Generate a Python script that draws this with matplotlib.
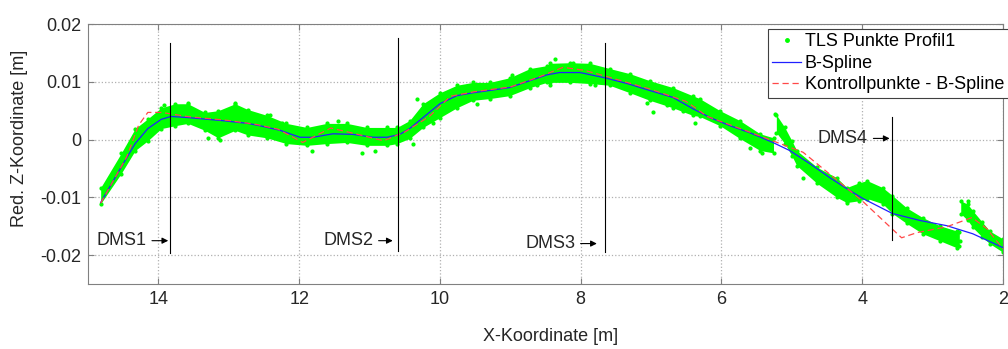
import numpy as np
import matplotlib.pyplot as plt

plt.rcParams['font.family'] = ['Liberation Sans', 'DejaVu Sans']

# B-spline curve
spline_x = [14.82, 14.53, 14.33, 14.15, 13.96, 13.82, 13.58, 13.11, 12.73, 12.56, 12.27,
            11.99, 11.80, 11.52, 11.24, 10.95, 10.75, 10.57, 10.43, 10.24, 10.00, 9.76,
            9.53, 9.29, 9.01, 8.72, 8.48, 8.30, 8.01, 7.66, 7.34, 7.02, 6.69, 6.40,
            6.16, 5.88, 5.60, 5.27, 5.03, 4.74, 4.46, 4.18, 3.99, 3.57, 3.18, 2.80,
            2.43, 2.00]
spline_z = [-0.0109, -0.0048, -0.0007, 0.0019, 0.0035, 0.0040, 0.0038, 0.0033, 0.0028,
            0.0024, 0.0016, 0.0004, 0.0004, 0.0010, 0.0009, 0.0004, 0.0004, 0.0009,
            0.0019, 0.0038, 0.0062, 0.0076, 0.0081, 0.0085, 0.0090, 0.0102, 0.0112,
            0.0116, 0.0116, 0.0107, 0.0097, 0.0085, 0.0073, 0.0053, 0.0038, 0.0024,
            0.0012, -0.0005, -0.0019, -0.0042, -0.0066, -0.0088, -0.0102, -0.0128,
            -0.0140, -0.0149, -0.0163, -0.0187]

# control polygon
ctrl_x = [14.82, 14.45, 14.28, 14.15, 13.95, 13.60, 13.00, 12.60, 12.30, 11.95, 11.55,
          11.20, 10.80, 10.50, 10.15, 9.85, 9.50, 9.00, 8.60, 8.25, 7.95, 7.60, 7.00,
          6.50, 6.20, 5.60, 5.21, 4.84, 4.00, 3.44, 3.22, 2.80, 2.44, 2.23, 2.00]
ctrl_z = [-0.0110, -0.0030, 0.0025, 0.0047, 0.0047, 0.0040, 0.0033, 0.0026, 0.0018,
          -0.0005, 0.0020, 0.0010, -0.0002, 0.0013, 0.0040, 0.0075, 0.0083, 0.0091,
          0.0108, 0.0125, 0.0120, 0.0108, 0.0087, 0.0066, 0.0040, 0.0013, -0.0005,
          -0.0022, -0.0106, -0.0170, -0.0161, -0.0151, -0.0135, -0.0154, -0.0189]

# TLS point cloud: upper / lower envelope, in three pieces
cloud_a_x = [14.82, 14.53, 14.33, 14.15, 13.96, 13.76, 13.58, 13.34, 13.15, 12.91, 12.73,
             12.46, 12.18, 11.89, 11.61, 11.32, 11.04, 10.75, 10.61, 10.43, 10.24, 10.00,
             9.76, 9.53, 9.29, 9.01, 8.72, 8.48, 8.44, 8.15, 7.87, 7.59, 7.30, 7.02,
             6.69, 6.41, 6.31, 6.02, 5.74, 5.45, 5.26]
cloud_a_top = [-0.0083, -0.0024, 0.0019, 0.0036, 0.0055, 0.0062, 0.0062, 0.0047, 0.0050,
               0.0062, 0.0052, 0.0042, 0.0028, 0.0021, 0.0028, 0.0028, 0.0021, 0.0021,
               0.0021, 0.0033, 0.0062, 0.0081, 0.0094, 0.0099, 0.0099, 0.0107, 0.0123,
               0.0128, 0.0132, 0.0133, 0.0132, 0.0123, 0.0114, 0.0102, 0.0090, 0.0076,
               0.0071, 0.0050, 0.0033, 0.0010, 0.0003]
cloud_a_bot = [-0.0111, -0.0059, -0.0019, -0.0002, 0.0019, 0.0024, 0.0028, 0.0016, 0.0003,
               0.0016, 0.0008, 0.0003, -0.0007, -0.0010, -0.0007, -0.0005, -0.0010, -0.0010,
               -0.0007, 0.0002, 0.0021, 0.0038, 0.0055, 0.0068, 0.0071, 0.0076, 0.0090,
               0.0099, 0.0099, 0.0099, 0.0097, 0.0094, 0.0081, 0.0068, 0.0055, 0.0042,
               0.0040, 0.0024, 0.0002, -0.0019, -0.0023]

cloud_b_x = [5.22, 5.10, 5.00, 4.93, 4.64, 4.36, 4.22, 4.05, 3.93, 3.71, 3.57, 3.37,
             3.14, 2.90, 2.66, 2.62]
cloud_b_top = [0.0043, 0.0021, -0.0002, -0.0019, -0.0048, -0.0066, -0.0083, -0.0075,
               -0.0071, -0.0083, -0.0097, -0.0118, -0.0135, -0.0149, -0.0158, -0.0160]
cloud_b_bot = [0.0012, -0.0007, -0.0028, -0.0045, -0.0076, -0.0100, -0.0109, -0.0106,
               -0.0102, -0.0111, -0.0128, -0.0145, -0.0163, -0.0175, -0.0187, -0.0185]

cloud_c_x = [2.60, 2.50, 2.43, 2.30, 2.19, 2.00]
cloud_c_top = [-0.0106, -0.0112, -0.0123, -0.0142, -0.0158, -0.0172]
cloud_c_bot = [-0.0128, -0.0140, -0.0152, -0.0168, -0.0180, -0.0195]

# isolated points outside the dense band
stray_x = [12.91, 13.58, 13.30, 13.13, 13.92, 12.80, 12.24, 11.45, 11.82, 11.11, 10.92,
           12.42, 10.33, 10.38, 10.10, 9.47, 8.98, 8.62, 8.37, 8.11, 8.44, 7.80, 7.06,
           6.97, 6.78, 6.55, 6.38, 5.60, 5.43, 4.22, 4.84, 2.50, 2.61, 5.24]
stray_z = [0.0064, 0.0064, 0.0002, 0.0000, 0.0059, 0.0050, 0.0029, 0.0033, -0.0019,
           -0.0024, -0.0019, 0.0043, 0.0071, -0.0007, 0.0028, 0.0062, 0.0111, 0.0094,
           0.0139, 0.0133, 0.0094, 0.0095, 0.0064, 0.0047, 0.0059, 0.0050, 0.0028,
           -0.0014, -0.0024, -0.0106, -0.0066, -0.0106, -0.0175, 0.0045]

# DMS markers
dms_labels = ['DMS1', 'DMS2', 'DMS3', 'DMS4']
dms_x = [13.83, 10.59, 7.66, 3.57]
dms_top = [0.0167, 0.0176, 0.0168, 0.0039]
dms_bot = [-0.0197, -0.0192, -0.0195, -0.0174]
dms_text_x = [14.17, 10.95, 8.08, 3.92]
dms_tip_x = [13.86, 10.67, 7.77, 3.61]
dms_y = [-0.0175, -0.0175, -0.0180, 0.0002]

xticks = [14, 12, 10, 8, 6, 4, 2]
yticks = [0.02, 0.01, 0, -0.01, -0.02]
ytick_labels = ['0.02', '0.01', '0', '-0.01', '-0.02']

green = '#00ff00'
gray = '#808080'

fig = plt.figure(figsize=(10.08, 3.49), dpi=100)
ax = fig.add_axes([0.0873, 0.1862, 0.9077, 0.745])

for cx, ct, cb in [(cloud_a_x, cloud_a_top, cloud_a_bot),
                   (cloud_b_x, cloud_b_top, cloud_b_bot),
                   (cloud_c_x, cloud_c_top, cloud_c_bot)]:
    ax.fill_between(cx, cb, ct, color=green, lw=0, zorder=2)
    ax.plot(cx, ct, '.', color=green, ms=4, zorder=2)
    ax.plot(cx, cb, '.', color=green, ms=4, zorder=2)
ax.plot(stray_x, stray_z, '.', color=green, ms=4, zorder=2)

# legend proxy for the points
ax.plot([], [], '.', color=green, ms=5, label='TLS Punkte Profil1')
ax.plot(spline_x, spline_z, '-', color='#2020ff', lw=0.9, label='B-Spline', zorder=3)
ax.plot(ctrl_x, ctrl_z, '--', color='#ff4848', lw=0.9, dashes=(5, 3),
        label='Kontrollpunkte - B-Spline', zorder=4)

for lab, x, y0, y1, tx, tip, ty in zip(dms_labels, dms_x, dms_bot, dms_top,
                                        dms_text_x, dms_tip_x, dms_y):
    ax.plot([x, x], [y0, y1], color='k', lw=0.8, zorder=5)
    ax.annotate(lab, xy=(tip, ty), xytext=(tx, ty), ha='right', va='center',
                fontsize=13, color='#262626',
                arrowprops=dict(arrowstyle='-|>', color='k', lw=0.8,
                                mutation_scale=9, shrinkA=2, shrinkB=0))

ax.set_xlim(15, 2)
ax.set_ylim(-0.025, 0.02)
ax.set_xticks(xticks)
ax.set_yticks(yticks)
ax.set_yticklabels(ytick_labels)
ax.grid(True, ls=':', color='#b0b0b0', lw=0.9)
ax.set_axisbelow(True)
for s in ax.spines.values():
    s.set_color(gray)
ax.tick_params(direction='in', length=4, color=gray, labelsize=13,
               labelcolor='#262626', pad=5, top=True, right=True)

ax.set_xlabel('X-Koordinate [m]', fontsize=13, color='#262626')
ax.set_ylabel('Red. Z-Koordinate [m]', fontsize=13, color='#262626')
ax.xaxis.set_label_coords(0.506, -0.169)
ax.yaxis.set_label_coords(-0.066, 0.56)

leg = ax.legend(loc='upper left', bbox_to_anchor=(0.743, 0.981), fontsize=13,
                frameon=True, fancybox=False, framealpha=1, edgecolor='#404040',
                borderaxespad=0, borderpad=0.25, labelspacing=0.25,
                handlelength=1.6, handletextpad=0.2, markerscale=1.0)
leg.get_frame().set_linewidth(0.8)

fig.savefig('out.png', dpi=100)
